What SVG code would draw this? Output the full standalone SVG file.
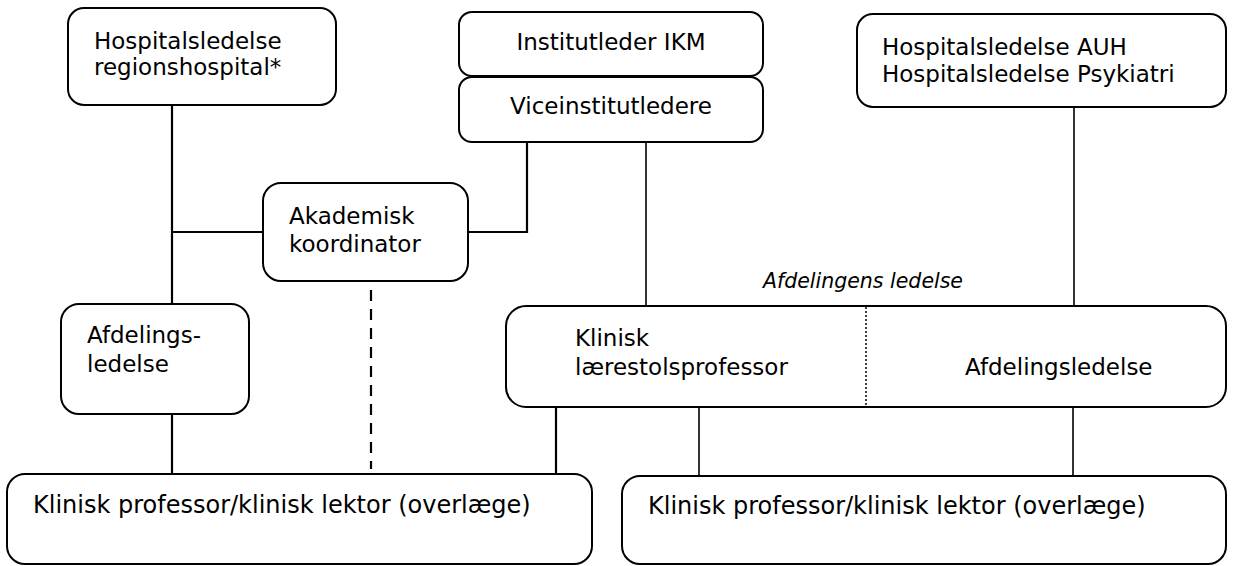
<svg xmlns="http://www.w3.org/2000/svg" width="1239" height="566" viewBox="0 0 1239 566">
<style>
.box{fill:#fff;stroke:#000;stroke-width:2}
.t{font-family:"DejaVu Sans",Verdana,sans-serif;font-size:23px;fill:#000}
.b{font-size:24px}
.it{font-family:"DejaVu Sans",Verdana,sans-serif;font-size:20.5px;font-style:italic;fill:#000}
.c{fill:none;stroke:#000;stroke-width:2.2}
.c2{fill:none;stroke:#000;stroke-width:1.6}
.dash{fill:none;stroke:#000;stroke-width:2.2;stroke-dasharray:11 8}
.dot{fill:none;stroke:#000;stroke-width:1.5;stroke-dasharray:2 2}
</style>
<rect width="1239" height="566" fill="#fff"/>
<g id="connectors">
<path class="c" d="M172 105V308"/>
<path class="c" d="M172 232H263"/>
<path class="c" d="M468 232H527V142"/>
<path class="c2" d="M646 142V306"/>
<path class="c2" d="M1074 107V306"/>
<path class="c" d="M172 414V474"/>
<path class="dash" d="M371 290V469"/>
<path class="c" d="M556 407V474"/>
<path class="c2" d="M699 407V476"/>
<path class="c2" d="M1073 407V476"/>
</g>
<g id="n-hospital-region">
<rect class="box" x="68" y="8" width="268" height="97" rx="16"/>
<text class="t" x="94" y="49">Hospitalsledelse</text>
<text class="t" x="94" y="75">regionshospital*</text>
</g>
<g id="n-institutleder">
<rect class="box" x="459" y="12" width="304" height="64" rx="13"/>
<text class="t" x="611" y="50" text-anchor="middle">Institutleder IKM</text>
</g>
<g id="n-viceinstitut">
<rect class="box" x="459" y="77" width="304" height="65" rx="13"/>
<text class="t" x="611" y="114" text-anchor="middle">Viceinstitutledere</text>
</g>
<g id="n-hospital-auh">
<rect class="box" x="857" y="14" width="369" height="93" rx="16"/>
<text class="t" x="882" y="55">Hospitalsledelse AUH</text>
<text class="t" x="882" y="82">Hospitalsledelse Psykiatri</text>
</g>
<g id="n-akademisk">
<rect class="box" x="263" y="183" width="205" height="98" rx="18"/>
<text class="t" x="289" y="224">Akademisk</text>
<text class="t" x="289" y="252">koordinator</text>
</g>
<g id="n-afdeling-left">
<rect class="box" x="61" y="304" width="188" height="110" rx="18"/>
<text class="t" x="87" y="343">Afdelings-</text>
<text class="t" x="87" y="372">ledelse</text>
</g>
<g id="n-label">
<text class="it" x="963" y="288" text-anchor="end">Afdelingens ledelse</text>
</g>
<g id="n-afdeling-right">
<rect class="box" x="506" y="306" width="720" height="101" rx="20"/>
<path class="dot" d="M866 307V406"/>
<text class="t" x="575" y="346">Klinisk</text>
<text class="t" x="575" y="375">lærestolsprofessor</text>
<text class="t" x="965" y="375">Afdelingsledelse</text>
</g>
<g id="n-klinisk-left">
<rect class="box" x="7" y="474" width="585" height="90" rx="18"/>
<text class="t b" x="33" y="513">Klinisk professor/klinisk lektor (overlæge)</text>
</g>
<g id="n-klinisk-right">
<rect class="box" x="622" y="476" width="604" height="88" rx="18"/>
<text class="t b" x="648" y="514">Klinisk professor/klinisk lektor (overlæge)</text>
</g>
</svg>
